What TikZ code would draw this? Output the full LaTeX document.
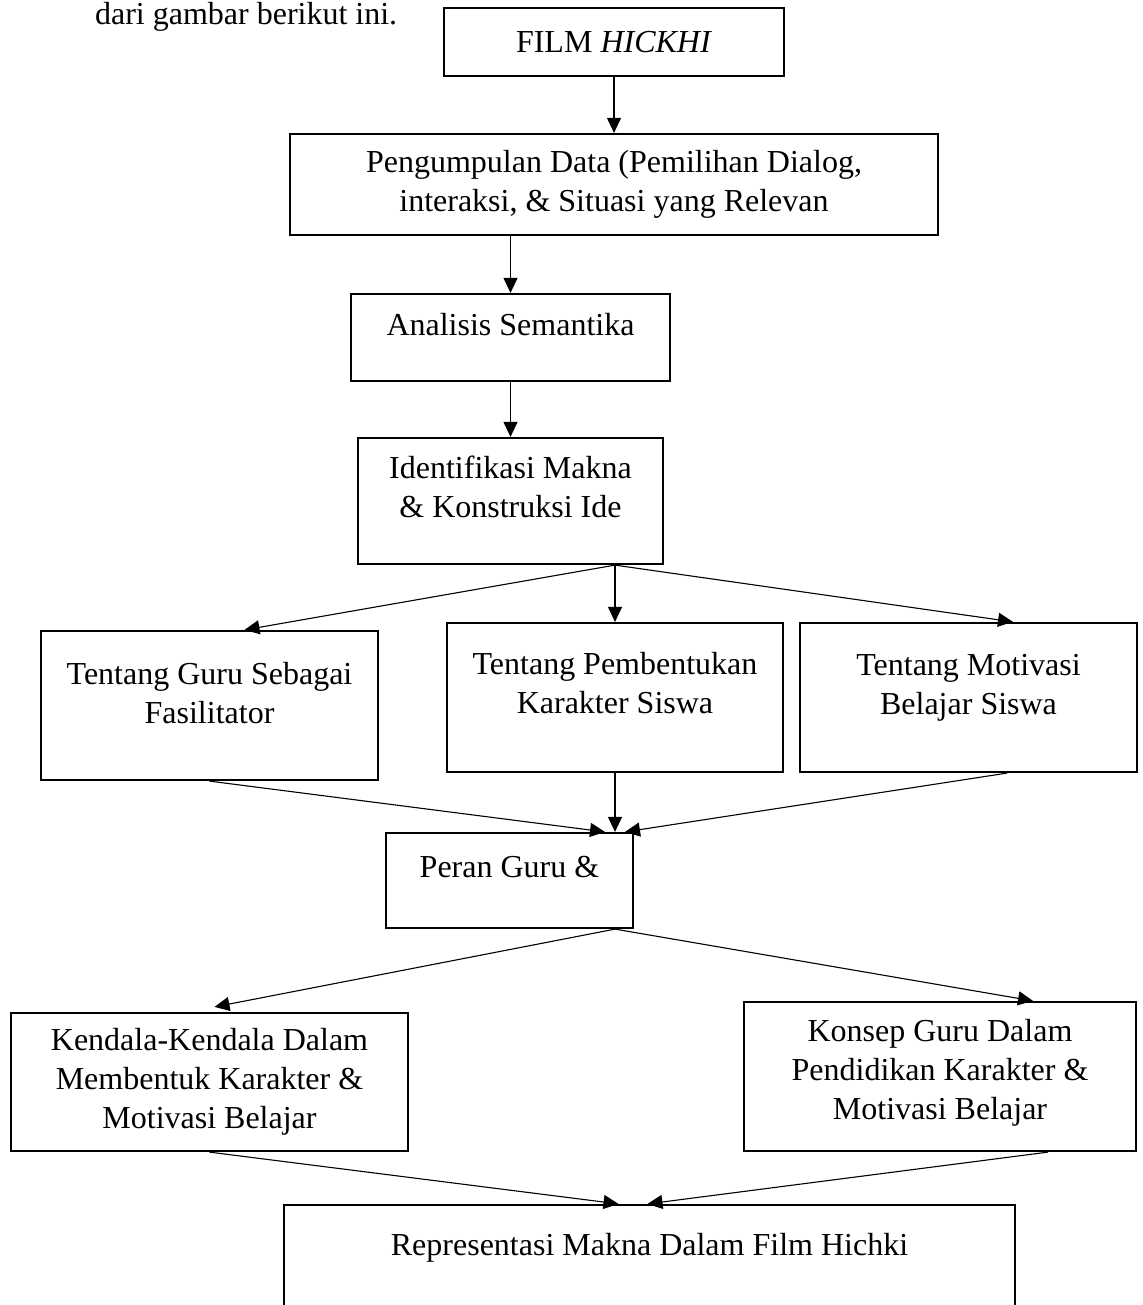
\documentclass[tikz,border=0pt]{standalone}
\usepackage{fontspec}
\setmainfont{Liberation Serif}
\usetikzlibrary{arrows.meta,calc}
\newcommand{\boxtext}[2]{\raisebox{0pt}[\height][\dimexpr\depth+#1pt\relax]{\begin{tabular}{@{}c@{}}#2\end{tabular}}}
\begin{document}
\begin{tikzpicture}[x=0.5pt,y=-0.5pt,
  box/.style={draw,line width=1.1pt,inner sep=0pt,font=\fontsize{16}{19.5}\selectfont},
  link/.style={-{Triangle[length=7.5pt,width=7pt]},line width=0.55pt}]
\clip (0,0) rectangle (1143,1305);
\node[anchor=base west,font=\fontsize{16}{19.5}\selectfont] (intro) at (88,25) {dari gambar berikut ini.};
\node[box,minimum width=170pt,minimum height=34pt] (film) at (614,42) {FILM \textit{HICKHI}};
\node[box,minimum width=324pt,minimum height=50.5pt] (data) at (614,184.5) {\boxtext{0}{Pengumpulan Data (Pemilihan Dialog,\\ interaksi, \& Situasi yang Relevan}};
\node[box,minimum width=159.5pt,minimum height=43.5pt] (analisis) at (510.5,337.5) {\boxtext{9.5}{Analisis Semantika}};
\node[box,minimum width=152.5pt,minimum height=63pt] (identifikasi) at (510.5,501) {\boxtext{11}{Identifikasi Makna\\ \& Konstruksi Ide}};
\node[box,minimum width=168.5pt,minimum height=74.5pt] (guru) at (209.5,705.5) {\boxtext{9.5}{Tentang Guru Sebagai\\ Fasilitator}};
\node[box,minimum width=168pt,minimum height=74.5pt] (bentuk) at (615,697.5) {\boxtext{11.5}{Tentang Pembentukan\\ Karakter Siswa}};
\node[box,minimum width=168.5pt,minimum height=74.5pt] (motivasi) at (968.5,697.5) {\boxtext{10.5}{Tentang Motivasi\\ Belajar Siswa}};
\node[box,minimum width=123.5pt,minimum height=47.5pt] (peran) at (509.5,880.5) {\boxtext{10.5}{Peran Guru \&}};
\node[box,minimum width=198.5pt,minimum height=69pt] (kendala) at (209.5,1082) {\boxtext{0}{Kendala-Kendala Dalam\\ Membentuk Karakter \&\\ Motivasi Belajar}};
\node[box,minimum width=196pt,minimum height=74.5pt] (konsep) at (940,1076.5) {\boxtext{3.5}{Konsep Guru Dalam\\ Pendidikan Karakter \&\\ Motivasi Belajar}};
\node[box,minimum width=365.5pt,minimum height=70pt] (hasil) at (649.5,1275) {\boxtext{27}{Representasi Makna Dalam Film Hichki}};

\draw[link] (film.south) -- (data.north);
\draw[link] (analisis.north |- data.south) -- (analisis.north);
\draw[link] (identifikasi.north |- analisis.south) -- (identifikasi.north);
\coordinate (fork1) at (bentuk.north |- identifikasi.south);
\draw[link] (fork1) -- ($(guru.north)+(35,0)$);
\draw[link] (fork1) -- (bentuk.north);
\draw[link] (fork1) -- ($(motivasi.north)+(44.5,0)$);
\coordinate (merge1) at (bentuk.south |- peran.north);
\draw[link] (guru.south) -- ($(merge1)+(-10,0)$);
\draw[link] (bentuk.south) -- (merge1);
\draw[link] ($(motivasi.south)+(38.5,0)$) -- ($(merge1)+(10,0)$);
\coordinate (fork2) at (merge1 |- peran.south);
\draw[link] (fork2) -- ($(kendala.north)+(5,-5)$);
\draw[link] (fork2) -- ($(konsep.north)+(93,0)$);
\draw[link] (kendala.south) -- ($(hasil.north)+(-31,0)$);
\draw[link] ($(konsep.south)+(108,0)$) -- ($(hasil.north)+(-2,0)$);
\end{tikzpicture}
\end{document}
